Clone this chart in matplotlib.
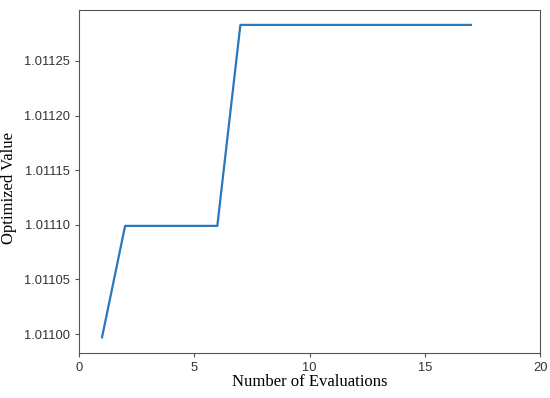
import matplotlib
matplotlib.use('Agg')
import matplotlib.pyplot as plt

evals = list(range(1, 18))
values = [1.010997] + [1.011099] * 5 + [1.011283] * 11

fig = plt.figure(figsize=(5.5, 3.98), dpi=100)
ax = fig.add_axes([0.1436, 0.113, 0.8384, 0.862])

ax.plot(evals, values, color='#2878bd', linewidth=1.6)

ax.set_xlim(0, 20)
ax.set_ylim(1.0109826, 1.0112967)
ax.set_xticks([0, 5, 10, 15, 20])
ax.set_yticks([1.01100, 1.01105, 1.01110, 1.01115, 1.01120, 1.01125])
ax.set_yticklabels(['1.01100', '1.01105', '1.01110', '1.01115', '1.01120', '1.01125'])

for s in ax.spines.values():
    s.set_color('#555555')
ax.tick_params(direction='out', length=3, color='#555555', labelsize=9.3,
               labelcolor='#333333', top=False, right=False)
for lab in ax.get_xticklabels() + ax.get_yticklabels():
    lab.set_fontfamily('Liberation Sans')

ax.set_xlabel('Number of Evaluations', family='Liberation Serif', fontsize=12, labelpad=0)
ax.set_ylabel('Optimized Value', family='Liberation Serif', fontsize=12)
ax.yaxis.set_label_coords(-0.134, 0.48)

fig.savefig('out.png', dpi=100)
